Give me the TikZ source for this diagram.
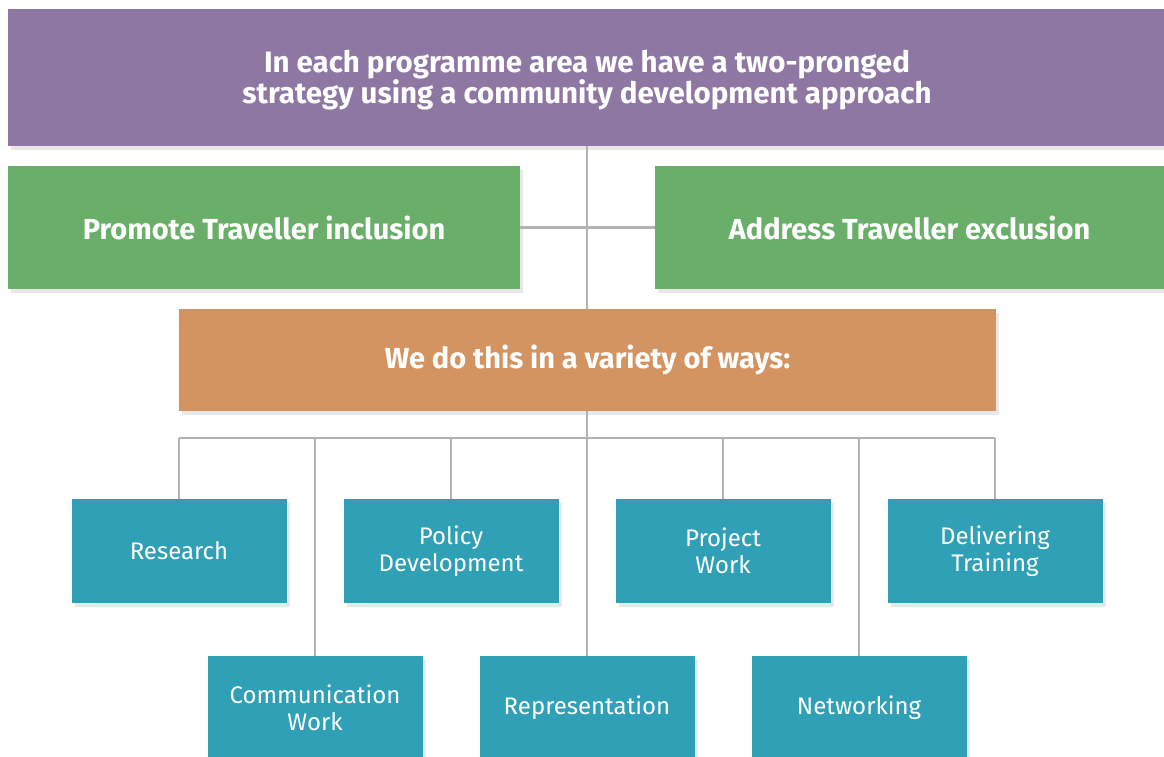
\documentclass[tikz,border=0pt]{standalone}
\usepackage{fontspec}
\setmainfont{Fira Sans}
\usetikzlibrary{shadows}
\definecolor{headpurple}{HTML}{8E78A3}
\definecolor{aimgreen}{HTML}{6AAF69}
\definecolor{wayorange}{HTML}{D39461}
\definecolor{workteal}{HTML}{2FA0B5}
\definecolor{linkgray}{HTML}{B3B3B3}
\tikzset{
  panel/.style={text=white, align=center, inner sep=0pt,
    drop shadow={opacity=0.18, shadow xshift=3pt, shadow yshift=-4pt}},
  aim/.style={panel, fill=aimgreen, minimum height=123pt, font=\bfseries\fontsize{29}{32}\selectfont},
  work/.style={panel, fill=workteal, minimum width=215pt, minimum height=104pt, font=\fontsize{24}{27}\selectfont},
  link/.style={draw=linkgray, line width=2.5pt}
}
\begin{document}
\begin{tikzpicture}[x=1pt,y=-1pt]
  \useasboundingbox (0,0) rectangle (1164,757);
  \coordinate (bus) at (587,438);
  % boxes
  \node[panel, fill=headpurple, minimum width=1156pt, minimum height=137pt,
    font=\bfseries\fontsize{29.5}{31}\selectfont] (head) at (586,77.5) {};
  \node[text=white, align=center, inner sep=0pt,
    font=\bfseries\fontsize{29.5}{31}\selectfont] (headtext) at (587,80)
    {In each programme area we have a two-pronged\\strategy using a community development approach};
  \node[aim, minimum width=512pt] (promote) at (264,227.5) {Promote Traveller inclusion};
  \node[aim, minimum width=509pt] (address) at (909.5,227.5) {Address Traveller exclusion};
  \node[panel, fill=wayorange, minimum width=817pt, minimum height=102pt,
    font=\bfseries\fontsize{29}{32}\selectfont] (ways) at (587.5,360) {We do this in a variety of ways:};
  \node[work] (research) at (179,551) {Research};
  \node[work] (policy) at (451,551) {Policy\\Development};
  \node[work] (project) at (723,551) {Project\\Work};
  \node[work] (training) at (995,551) {Delivering\\Training};
  \node[work] (comms) at (315,708) {Communication\\Work};
  \node[work] (repr) at (587,708) {Representation};
  \node[work] (network) at (859,708) {Networking};
  % connectors
  \draw[link] (head.south -| bus) -- (ways.north -| bus);
  \draw[link] (promote.east) -- (address.west);
  \draw[link] (ways.south -| bus) -- (bus);
  \draw[link] (research.north |- bus) -- (training.north |- bus);
  \foreach \w in {research,policy,project,training,comms,repr,network}
    \draw[link] (\w.north) -- (\w.north |- bus);
\end{tikzpicture}
\end{document}
